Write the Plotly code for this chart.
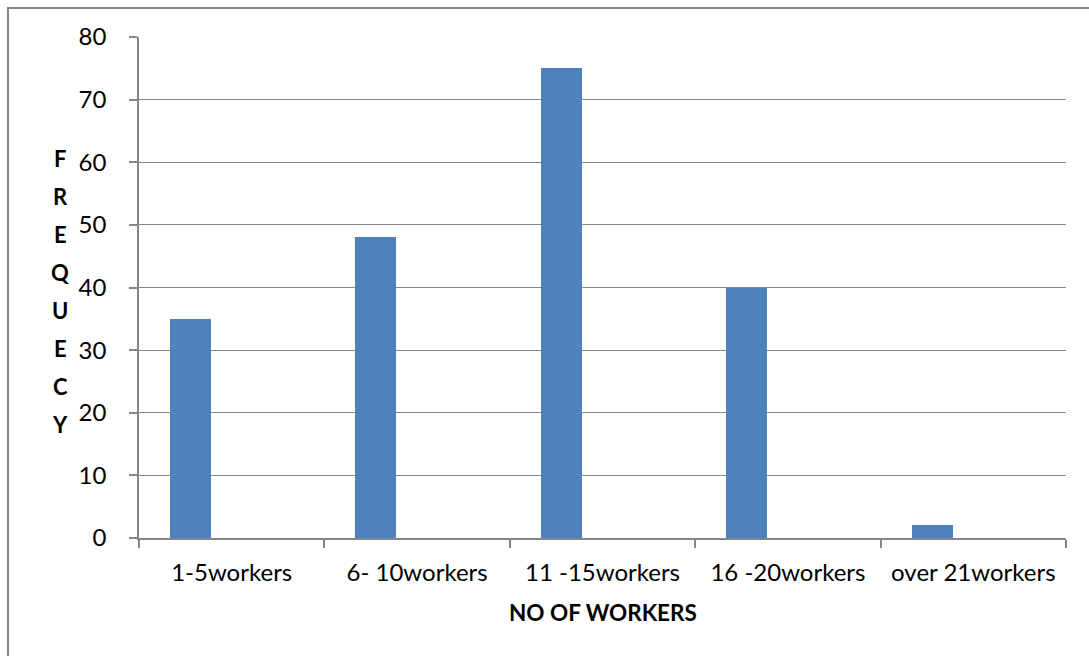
import plotly.graph_objects as go

categories = ["1-5workers", "6- 10workers", "11 -15workers", "16 -20workers", "over 21workers"]
frequency = [35, 48, 75, 40, 2]
y_ticks = [0, 10, 20, 30, 40, 50, 60, 70, 80]
y_title_letters = ["F", "R", "E", "Q", "U", "E", "C", "Y"]
x_title = "NO OF WORKERS"

W, H = 1089, 656
L, R, T, B = 139, 23, 37, 118
pw, ph = W - L - R, H - T - B

def px_to_paper_x(px):
    return (px - L) / pw

def px_to_paper_y(py):
    return (H - B - py) / ph

FONT = "Lato, 'Open Sans', sans-serif"
GRID = "#868686"

fig = go.Figure()
fig.add_trace(go.Bar(
    x=categories, y=frequency,
    marker=dict(color="#4F81BD", line=dict(width=0)),
    width=0.221, offset=-0.333,
))

# stacked vertical y-axis title letters
ann = []
for i, ch in enumerate(y_title_letters):
    ann.append(dict(
        text=ch, xref="paper", yref="paper",
        x=px_to_paper_x(60), y=px_to_paper_y(158 + i * 38.1),
        xanchor="center", yanchor="middle", showarrow=False,
        font=dict(family=FONT, size=22, color="#000000", weight="bold"),
    ))
ann.append(dict(
    text=f"<b>{x_title}</b>", xref="paper", yref="paper",
    x=0.5, y=px_to_paper_y(612), xanchor="center", yanchor="middle",
    showarrow=False, font=dict(family=FONT, size=22.5, color="#000000"),
))

fig.update_layout(
    width=W, height=H,
    margin=dict(l=L, r=R, t=T, b=B, pad=0),
    paper_bgcolor="white", plot_bgcolor="white",
    showlegend=False,
    bargap=0,
    annotations=ann,
    shapes=[dict(
        type="rect", xref="paper", yref="paper",
        x0=px_to_paper_x(8), x1=px_to_paper_x(W + 20),
        y0=px_to_paper_y(H + 20), y1=px_to_paper_y(8),
        line=dict(color=GRID, width=2), fillcolor="rgba(0,0,0,0)", layer="below",
    )],
    xaxis=dict(
        type="category",
        showline=True, linecolor=GRID, linewidth=1.5,
        ticks="outside", ticklen=8, tickcolor=GRID, tickwidth=1.5,
        tickson="boundaries", showgrid=False, zeroline=False,
        tickfont=dict(family=FONT, size=24, color="#000000"),
        ticklabelstandoff=12,
    ),
    yaxis=dict(
        range=[0, 80], tickvals=y_ticks,
        showline=True, linecolor=GRID, linewidth=1.5,
        ticks="outside", ticklen=8, tickcolor=GRID, tickwidth=1.5,
        showgrid=True, gridcolor=GRID, gridwidth=1.2, zeroline=False,
        tickfont=dict(family=FONT, size=24, color="#000000"),
        ticklabelstandoff=18,
    ),
)

fig.write_html("out.html")
